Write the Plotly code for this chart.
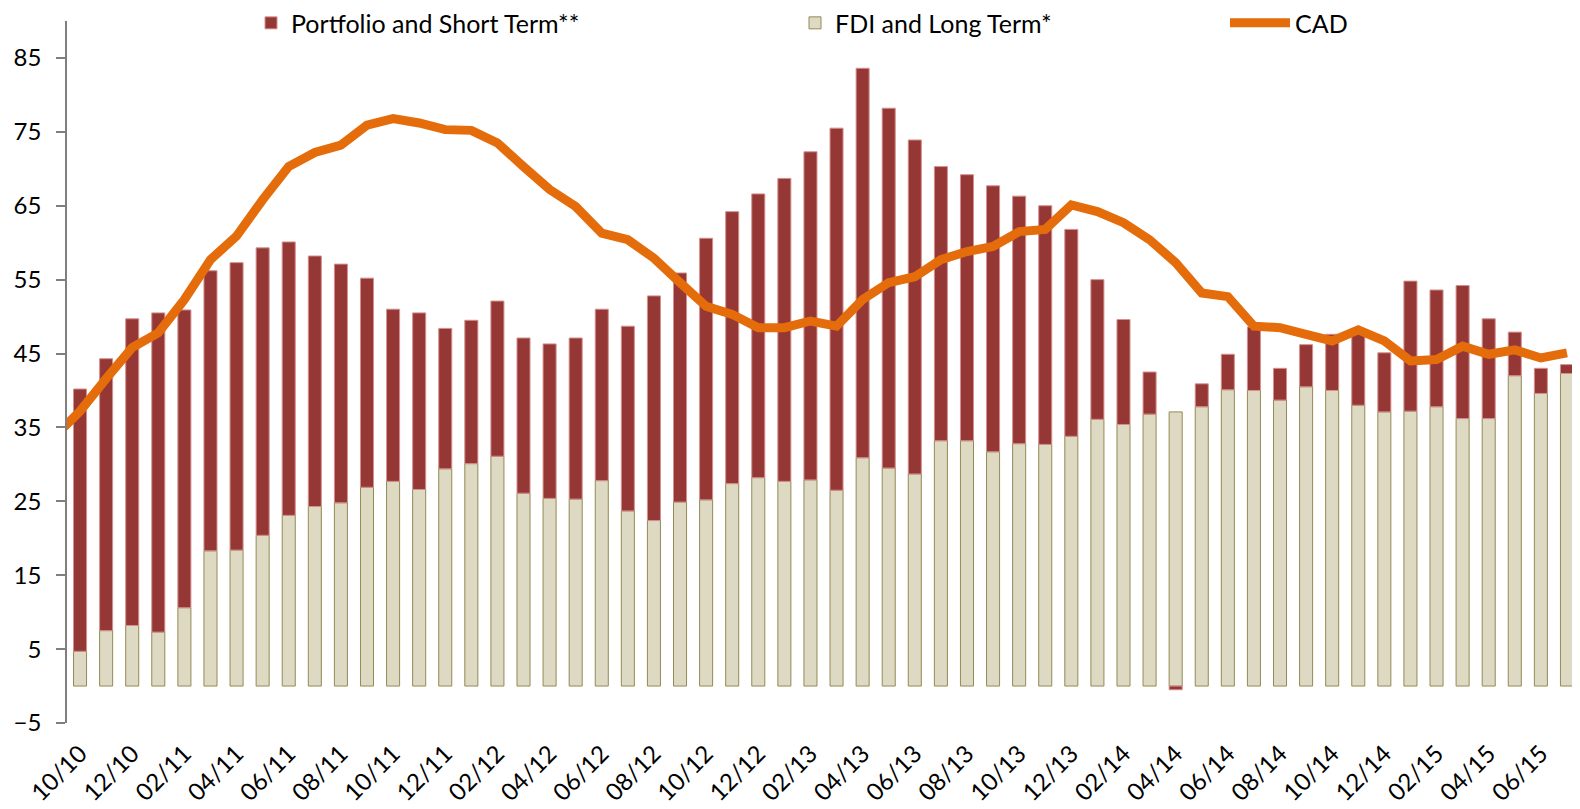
import plotly.graph_objects as go

# ---- data ----
months = [
    "10/10", "11/10", "12/10",
    "01/11", "02/11", "03/11", "04/11", "05/11", "06/11", "07/11", "08/11", "09/11", "10/11", "11/11", "12/11",
    "01/12", "02/12", "03/12", "04/12", "05/12", "06/12", "07/12", "08/12", "09/12", "10/12", "11/12", "12/12",
    "01/13", "02/13", "03/13", "04/13", "05/13", "06/13", "07/13", "08/13", "09/13", "10/13", "11/13", "12/13",
    "01/14", "02/14", "03/14", "04/14", "05/14", "06/14", "07/14", "08/14", "09/14", "10/14", "11/14", "12/14",
    "01/15", "02/15", "03/15", "04/15", "05/15", "06/15", "07/15",
]

fdi_long_term = [
    4.7, 7.5, 8.2,
    7.3, 10.6, 18.3, 18.4, 20.4, 23.1, 24.3, 24.8, 26.9, 27.7, 26.6, 29.4,
    30.1, 31.1, 26.1, 25.4, 25.3, 27.8, 23.7, 22.4, 24.9, 25.2, 27.4, 28.2,
    27.7, 27.9, 26.5, 30.9, 29.5, 28.7, 33.2, 33.2, 31.7, 32.8, 32.7, 33.8,
    36.1, 35.4, 36.8, 37.1, 37.8, 40.1, 40.0, 38.7, 40.5, 40.0, 38.0, 37.1,
    37.2, 37.8, 36.2, 36.2, 42.0, 39.6, 42.3,
]

portfolio_short_term = [
    35.5, 36.8, 41.5,
    43.2, 40.3, 37.9, 38.9, 38.9, 37.0, 33.9, 32.3, 28.3, 23.3, 23.9, 19.0,
    19.4, 21.0, 21.0, 20.9, 21.8, 23.2, 25.0, 30.4, 31.0, 35.4, 36.8, 38.4,
    41.0, 44.4, 49.0, 52.7, 48.7, 45.2, 37.1, 36.0, 36.0, 33.5, 32.3, 28.0,
    18.9, 14.2, 5.7, -0.5, 3.1, 4.8, 8.6, 4.3, 5.7, 7.6, 9.8, 8.0,
    17.6, 15.8, 18.0, 13.5, 5.9, 3.4, 1.2,
]

cad = [
    37.2, 41.6, 45.8,
    47.8, 52.3, 57.7, 60.9, 65.8, 70.3, 72.2, 73.2, 75.9, 76.8, 76.2, 75.3,
    75.2, 73.5, 70.3, 67.2, 64.9, 61.3, 60.4, 57.9, 54.6, 51.4, 50.3, 48.5,
    48.5, 49.4, 48.7, 52.3, 54.6, 55.4, 57.7, 58.8, 59.5, 61.5, 61.8, 65.1,
    64.2, 62.7, 60.4, 57.3, 53.2, 52.7, 48.7, 48.5, 47.6, 46.7, 48.2, 46.7,
    44.0, 44.2, 46.0, 44.9, 45.5, 44.4, 45.1,
]

# CAD value of the month before the first bar (the line enters from the axis edge)
cad_prev_month = "09/10"
cad_prev_value = 33.7

y_ticks = [-5, 5, 15, 25, 35, 45, 55, 65, 75, 85]

# ---- styling ----
RED = "#953735"
RED_EDGE = "#D4908E"
BEIGE = "#DDD9C3"
BEIGE_EDGE = "#948A54"
ORANGE = "#E46C0A"
FONT = "Lato"
FS_TICK = 24
FS_LEG = 25

x_idx = list(range(len(months)))
cad_x = [-1] + x_idx
cad_y = [cad_prev_value] + cad

fig = go.Figure()

fig.add_trace(go.Bar(
    x=x_idx, y=fdi_long_term, name="FDI and Long Term*",
    marker=dict(color=BEIGE, line=dict(color=BEIGE_EDGE, width=1)),
    width=0.5, legend="legend2", showlegend=True,
))
fig.add_trace(go.Bar(
    x=x_idx, y=portfolio_short_term, name="Portfolio and Short Term**",
    marker=dict(color=RED, line=dict(color=RED_EDGE, width=1)),
    width=0.5, legend="legend", showlegend=True,
))
fig.add_trace(go.Scatter(
    x=cad_x, y=cad_y, name="CAD", mode="lines",
    line=dict(color=ORANGE, width=9),
    legend="legend3", showlegend=True,
))

n = len(months)
xr = [-0.5, n - 0.5]
tickvals = x_idx[::2]
ticktext = months[::2]
boundary_ticks = [i - 0.5 for i in range(0, n + 1, 2)]

# the page body has an 8px margin; size the figure so the plot fills the window
W, H = 1572, 801
PLOT_W = 1513

legend_common = dict(
    orientation="h", yanchor="middle", y=0.997, xanchor="left",
    font=dict(family=FONT, size=FS_LEG, color="black"),
    bgcolor="rgba(0,0,0,0)", borderwidth=0,
)

fig.update_layout(
    width=W, height=H,
    margin=dict(l=59, r=0, t=13, b=86, autoexpand=False),
    paper_bgcolor="white", plot_bgcolor="white",
    barmode="relative", showlegend=True,
    font=dict(family=FONT, size=FS_TICK, color="black"),
    xaxis=dict(
        range=xr, tickmode="array", tickvals=tickvals, ticktext=ticktext,
        tickangle=-45, showline=False, ticks="", showgrid=False, zeroline=False,
        ticklabelstandoff=11, automargin=False,
        tickfont=dict(family=FONT, size=FS_TICK, color="black"),
    ),
    xaxis2=dict(
        range=xr, overlaying="x", anchor="free", position=5 / 95, side="bottom",
        showline=True, linecolor="#B3B3B3", linewidth=1.5,
        ticks="outside", ticklen=9, tickwidth=1.5, tickcolor="#B3B3B3",
        tickmode="array", tickvals=boundary_ticks, showticklabels=False,
        showgrid=False, zeroline=False, automargin=False,
    ),
    yaxis=dict(
        range=[-5, 90], tickmode="array", tickvals=y_ticks,
        showline=True, linecolor="#7F7F7F", linewidth=1.5,
        ticks="outside", ticklen=9, tickwidth=1.5, tickcolor="#7F7F7F",
        showgrid=False, zeroline=False, ticklabelstandoff=10, automargin=False,
        tickfont=dict(family=FONT, size=FS_TICK, color="black"),
    ),
    legend=dict(legend_common, x=(251 - 67) / PLOT_W),
    legend2=dict(legend_common, x=(795 - 67) / PLOT_W),
    legend3=dict(legend_common, x=(1225 - 67) / PLOT_W, itemwidth=60),
)

fig.write_html("out.html")
